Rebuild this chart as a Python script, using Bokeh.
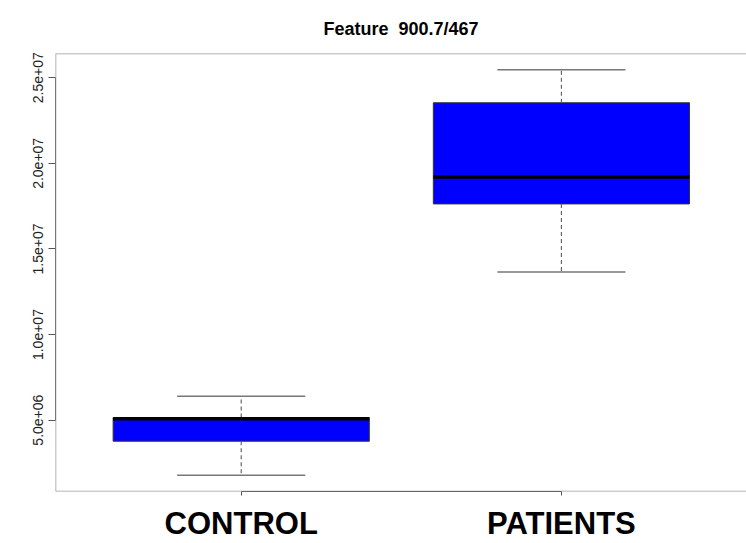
from bokeh.plotting import figure
from bokeh.models import FixedTicker, Span, Range1d
from bokeh.embed import file_html
from bokeh.resources import INLINE

# ---- data ----
categories = ["CONTROL", "PATIENTS"]
positions = [1, 2]
lower_whisker = [1.78e6, 13.66e6]
q1 = [3.77e6, 17.63e6]
median = [5.08e6, 19.21e6]
q3 = [5.15e6, 23.54e6]
upper_whisker = [6.40e6, 25.47e6]
y_tick_values = [5e6, 1e7, 1.5e7, 2e7, 2.5e7]
y_tick_labels = ["5.0e+06", "1.0e+07", "1.5e+07", "2.0e+07", "2.5e+07"]
title_text = "Feature\u00a0 900.7/467"

BOX_W = 0.8
CAP_W = 0.4

lo = min(lower_whisker)
hi = max(upper_whisker)
pad = (hi - lo) * 0.04

p = figure(width=746, height=543, output_backend="svg", toolbar_location=None,
           x_range=Range1d(0.42, 2.578), y_range=Range1d(lo - pad, hi + pad),
           min_border_left=55, min_border_right=0, min_border_top=53, min_border_bottom=52,
           title=title_text)
p.background_fill_color = "white"
p.border_fill_color = "white"
p.outline_line_color = None
p.xgrid.visible = False
p.ygrid.visible = False

p.title.align = "center"
p.title.text_font = "Liberation Sans"
p.title.text_font_size = "18px"
p.title.text_font_style = "bold"
p.title.text_color = "black"
p.title.standoff = 30

# frame (top, bottom, left) in grey
frame_col = "#9a9a9a"
for sp in [Span(location=hi + pad, dimension="width"),
           Span(location=lo - pad, dimension="width")]:
    sp.line_color = frame_col
    sp.line_width = 1.5
    p.add_layout(sp)
sp = Span(location=0.42, dimension="height", line_color=frame_col, line_width=1.5)
p.add_layout(sp)

# boxes
xs = positions
p.vbar(x=xs, width=BOX_W, bottom=q1, top=q3, fill_color="#0000FF",
       line_color="#333333", line_width=1)
# whiskers (dashed)
p.segment(x0=xs, y0=q3, x1=xs, y1=upper_whisker, line_color="#666666",
          line_width=1.2, line_dash="4 3")
p.segment(x0=xs, y0=q1, x1=xs, y1=lower_whisker, line_color="#666666",
          line_width=1.2, line_dash="4 3")
# caps
p.segment(x0=[x - CAP_W / 2 for x in xs], y0=upper_whisker,
          x1=[x + CAP_W / 2 for x in xs], y1=upper_whisker,
          line_color="#777777", line_width=1.5)
p.segment(x0=[x - CAP_W / 2 for x in xs], y0=lower_whisker,
          x1=[x + CAP_W / 2 for x in xs], y1=lower_whisker,
          line_color="#777777", line_width=1.5)
# medians
p.segment(x0=[x - BOX_W / 2 for x in xs], y0=median,
          x1=[x + BOX_W / 2 for x in xs], y1=median,
          line_color="black", line_width=3.5)

# y axis
p.yaxis.ticker = FixedTicker(ticks=y_tick_values)
p.yaxis.major_label_overrides = dict(zip(y_tick_values, y_tick_labels))
p.yaxis.bounds = (y_tick_values[0], y_tick_values[-1])
p.yaxis.axis_line_color = "#555555"
p.yaxis.major_tick_line_color = "#555555"
p.yaxis.major_tick_out = 7
p.yaxis.major_tick_in = 0
p.yaxis.minor_tick_line_color = None
p.yaxis.major_label_orientation = "vertical"
p.yaxis.major_label_text_font = "Liberation Sans"
p.yaxis.major_label_text_font_size = "14px"
p.yaxis.major_label_text_color = "#222222"
p.yaxis.major_label_standoff = 5

# x axis
p.xaxis.ticker = FixedTicker(ticks=positions)
p.xaxis.major_label_overrides = dict(zip(positions, categories))
p.xaxis.bounds = (positions[0], positions[-1])
p.xaxis.axis_line_color = "#333333"
p.xaxis.major_tick_line_color = "#555555"
p.xaxis.major_tick_out = 4
p.xaxis.major_tick_in = 0
p.xaxis.minor_tick_line_color = None
p.xaxis.major_label_text_font = "Liberation Sans"
p.xaxis.major_label_text_font_size = "31px"
p.xaxis.major_label_text_font_style = "bold"
p.xaxis.major_label_text_color = "black"
p.xaxis.major_label_standoff = 10

open("out.html", "w").write(file_html(p, INLINE))
